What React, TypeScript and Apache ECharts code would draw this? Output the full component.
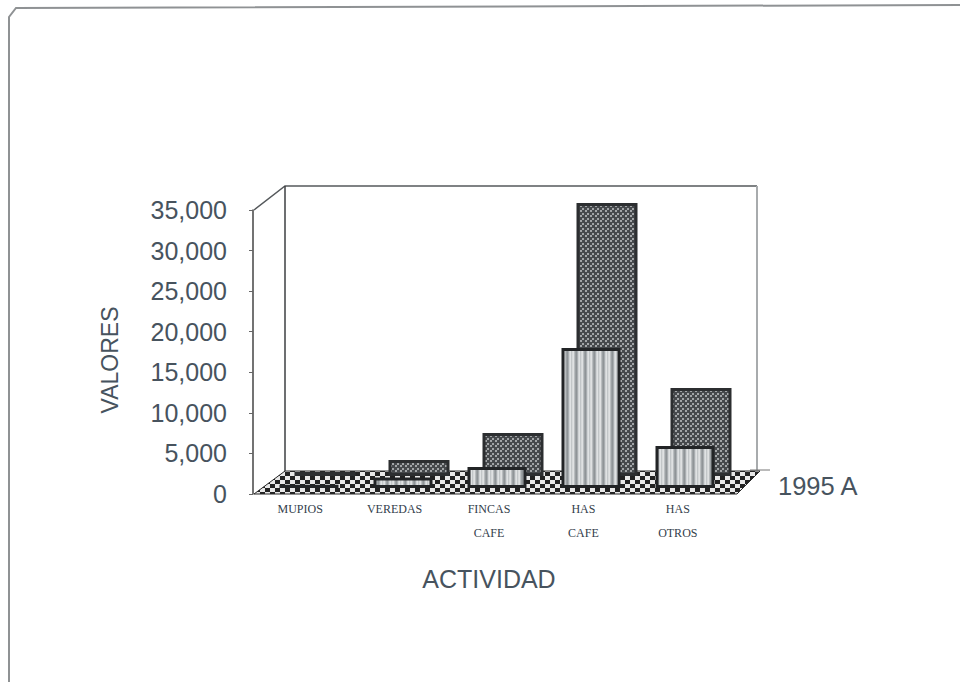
import React, { useEffect, useRef } from "react";
import * as echarts from "echarts";

const categories = ["MUPIOS", "VEREDAS", "FINCAS\nCAFE", "HAS\nCAFE", "HAS\nOTROS"];
const values1995A = [400, 1300, 2600, 17300, 5200];
const valuesBack = [500, 1980, 5320, 33760, 10880];
const depthLabel = "1995 A";

const INK = "#47535e";

function makePattern(w: number, h: number, draw: (c: CanvasRenderingContext2D) => void) {
  const cv = document.createElement("canvas");
  cv.width = w;
  cv.height = h;
  const c = cv.getContext("2d") as CanvasRenderingContext2D;
  draw(c);
  return cv;
}

export default function App() {
  const ref = useRef<HTMLDivElement>(null);
  useEffect(() => {
    document.body.style.margin = "0";
    document.body.style.background = "#ffffff";
    const chart = echarts.init(ref.current as HTMLDivElement, undefined, { renderer: "svg" });

    const stripes = makePattern(9, 4, (c) => {
      const cols = ["#8f9497", "#a8adb0", "#d0d3d5", "#dfe2e3", "#c2c6c8", "#d6d9da", "#dfe1e2", "#b9bdbf", "#9ca1a4"];
      cols.forEach((col, i) => {
        c.fillStyle = col;
        c.fillRect(i, 0, 1, 4);
      });
    });
    const dots = makePattern(5, 5, (c) => {
      c.fillStyle = "#46494c";
      c.fillRect(0, 0, 5, 5);
      c.fillStyle = "#a2a5a7";
      c.fillRect(0, 0, 2, 2);
      c.fillRect(2, 3, 2, 2);
    });
    const checker = makePattern(10, 8, (c) => {
      c.fillStyle = "#222222";
      c.fillRect(0, 0, 10, 8);
      c.fillStyle = "#e8e8e8";
      c.fillRect(0, 0, 5, 4);
      c.fillRect(5, 4, 5, 4);
    });

    const backStyle = {
      color: { image: dots, repeat: "repeat" },
      borderColor: "#2c2e30",
      borderWidth: 3,
    };
    const frontStyle = {
      color: { image: stripes, repeat: "repeat" },
      borderColor: "#222426",
      borderWidth: 3,
    };
    const hiddenX = {
      type: "category" as const,
      data: categories,
      show: false,
    };
    const hiddenY = { type: "value" as const, min: 0, max: 35000, interval: 5000, show: false };

    chart.setOption({
      animation: false,
      backgroundColor: "#ffffff",
      grid: [
        { left: 253, top: 210, width: 472, height: 284 },
        { left: 278, top: 193, width: 470, height: 283 },
        { left: 262, top: 205, width: 470, height: 283 },
      ],
      xAxis: [
        {
          type: "category",
          gridIndex: 0,
          data: categories,
          axisLine: { show: false },
          axisTick: { show: false },
          name: "ACTIVIDAD",
          nameLocation: "middle",
          nameGap: 72,
          nameTextStyle: { fontFamily: "Liberation Sans", fontSize: 25, color: INK },
          axisLabel: {
            interval: 0,
            margin: 3,
            fontFamily: "Liberation Serif",
            fontSize: 12,
            fontWeight: "normal",
            lineHeight: 24,
            color: "#33404b",
          },
        },
        { ...hiddenX, gridIndex: 1 },
        { ...hiddenX, gridIndex: 2 },
      ],
      yAxis: [
        {
          type: "value",
          gridIndex: 0,
          min: 0,
          max: 35000,
          interval: 5000,
          name: "VALORES",
          nameLocation: "middle",
          nameGap: 132,
          nameTextStyle: { fontFamily: "Liberation Sans", fontSize: 23, color: INK, padding: [0, 16, 0, 0] },
          splitLine: { show: false },
          axisLine: { show: true, lineStyle: { color: "#444", width: 1.5 } },
          axisTick: { show: true, length: 4, lineStyle: { color: "#666", width: 1 } },
          axisLabel: {
            margin: 26,
            fontFamily: "Liberation Sans",
            fontSize: 25,
            color: INK,
            formatter: (v: number) => v.toLocaleString("en-US"),
          },
        },
        { ...hiddenY, gridIndex: 1 },
        { ...hiddenY, gridIndex: 2 },
      ],
      series: [
        {
          type: "bar",
          name: "Fondo",
          xAxisIndex: 1,
          yAxisIndex: 1,
          data: valuesBack,
          barWidth: 61,
          itemStyle: backStyle,
          z: 3,
        },
        {
          type: "bar",
          name: depthLabel,
          xAxisIndex: 2,
          yAxisIndex: 2,
          data: values1995A,
          barWidth: 59,
          itemStyle: frontStyle,
          z: 4,
        },
      ],
      graphic: [
        {
          type: "polyline",
          z: 1,
          shape: { points: [[9, 682], [9, 17], [16, 8], [960, 5]] },
          style: { stroke: "#8f9294", lineWidth: 2, fill: "none" },
          silent: true,
        },
        {
          type: "polyline",
          z: 1,
          shape: { points: [[254, 210], [285, 186], [757, 186]] },
          style: { stroke: "#55595c", lineWidth: 1.5, fill: "none" },
          silent: true,
        },
        {
          type: "line",
          z: 1,
          shape: { x1: 285, y1: 186, x2: 285, y2: 472 },
          style: { stroke: "#3c3f42", lineWidth: 1.5 },
          silent: true,
        },
        {
          type: "line",
          z: 1,
          shape: { x1: 757, y1: 186, x2: 757, y2: 470 },
          style: { stroke: "#a8abad", lineWidth: 2 },
          silent: true,
        },
        {
          type: "line",
          z: 1,
          shape: { x1: 750, y1: 470, x2: 770, y2: 470 },
          style: { stroke: "#777", lineWidth: 1 },
          silent: true,
        },
        {
          type: "polygon",
          z: 2,
          shape: { points: [[254, 494], [285, 471], [760, 471], [737, 494]] },
          style: { fill: { image: checker, repeat: "repeat" }, stroke: "#2a2a2a", lineWidth: 1 },
          silent: true,
        },
        {
          type: "text",
          z: 5,
          x: 778,
          y: 473,
          style: { text: depthLabel, fontFamily: "Liberation Sans", fontSize: 25.5, fill: INK },
        },
      ],
    });
    return () => chart.dispose();
  }, []);
  return <div ref={ref} style={{ width: 962, height: 685 }} />;
}
